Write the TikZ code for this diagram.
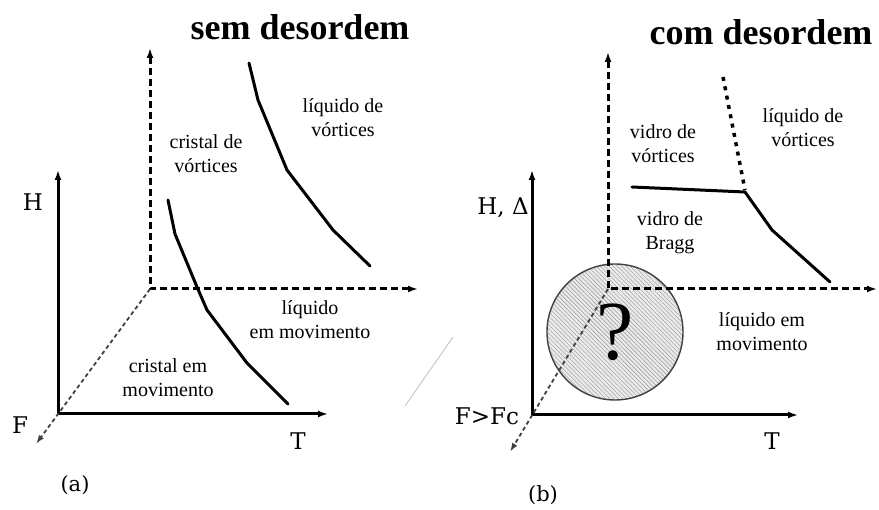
\documentclass[tikz,border=0pt]{standalone}
\usepackage{fontspec}
\setmainfont{Liberation Serif}
\newfontfamily\axisfont{DejaVu Serif}
\usetikzlibrary{arrows.meta,patterns.meta}

\tikzset{
  mainaxis/.style={line width=3pt,{Latex[length=10pt,width=7pt]}-{Latex[length=10pt,width=7pt]}},
  dashaxis/.style={line width=3pt,dash pattern=on 7pt off 4pt,{Latex[length=10pt,width=7pt]}-{Latex[length=10pt,width=7pt]}},
  depthaxis/.style={line width=1.8pt,black!75,dash pattern=on 4pt off 3pt,-{Latex[length=9pt,width=6pt]}},
  boundary/.style={line width=3pt,line join=round,line cap=round},
  dotline/.style={line width=3.5pt,dash pattern=on 4pt off 5.5pt},
  region/.style={font=\fontsize{20}{24}\selectfont,align=center,inner sep=0pt},
  axislabel/.style={font=\axisfont\fontsize{23}{26}\selectfont,inner sep=0pt},
  caption/.style={font=\axisfont\fontsize{21}{24}\selectfont,inner sep=0pt},
  headline/.style={font=\bfseries\fontsize{36}{40}\selectfont,inner sep=0pt},
}

\begin{document}
\begin{tikzpicture}[x=1pt,y=-1pt]
  \useasboundingbox (0,0) rectangle (879,510);

  % (a) sem desordem
  \coordinate (aO) at (58,414);
  \coordinate (aH) at (58,170);
  \coordinate (aT) at (328,414);
  \coordinate (aP) at (150,289);
  \coordinate (aPup) at (150,48);
  \coordinate (aPright) at (418,289);
  \coordinate (aF) at (36,444);
  \draw[mainaxis] (aH) -- (aO) -- (aT);
  \draw[dashaxis] (aPup) -- (aP) -- (aPright);
  \draw[depthaxis] (aP) -- (aF);
  \draw[boundary] (168,200) -- (175,234) -- (197,287) -- (207,310) -- (247,363) -- (288,404);
  \draw[boundary] (249,63) -- (258,100) -- (287,170) -- (333,230) -- (370,266);
  \node[region] (aliq) at (343,118) {líquido de\\vórtices};
  \node[region] (acris) at (206,154) {cristal de\\vórtices};
  \node[region] (aliqm) at (310,320) {líquido\\em movimento};
  \node[region] (acrism) at (168,378) {cristal em\\movimento};
  \node[axislabel] (aHl) at (33,202) {H};
  \node[axislabel] (aTl) at (298,441) {T};
  \node[axislabel] (aFl) at (20,425) {F};
  \node[caption] (acap) at (75,485) {(a)};
  \node[headline] (atitle) at (300,27) {sem desordem};
  \draw[black!25,line width=0.8pt] (453,337) -- (405,406);

  % (b) com desordem
  \coordinate (bO) at (532,415);
  \coordinate (bH) at (532,170);
  \coordinate (bT) at (798,415);
  \coordinate (bP) at (608,289);
  \coordinate (bPup) at (608,52);
  \coordinate (bPright) at (877,289);
  \coordinate (bF) at (510,452);
  \node[circle,minimum size=136pt,inner sep=0pt,draw=black!75,line width=1.4pt,
        pattern={Lines[angle=-45,distance=3pt,line width=0.6pt]},pattern color=black!35,
        preaction={fill=black!8},font=\fontsize{84}{84}\selectfont] (qmark) at (615,332) {?};
  \draw[mainaxis] (bH) -- (bO) -- (bT);
  \draw[dashaxis] (bPup) -- (bP) -- (bPright);
  \draw[depthaxis] (bP) -- (bF);
  \draw[boundary] (632,187) -- (745,192) -- (772,230) -- (830,282);
  \draw[dotline] (723,77) -- (745,190);
  \node[region] (bvidv) at (663,144) {vidro de\\vórtices};
  \node[region] (bliq) at (803,128) {líquido de\\vórtices};
  \node[region] (bbragg) at (670,233) {vidro de\\Bragg};
  \node[region] (bliqm) at (762,332) {líquido em\\movimento};
  \node[axislabel] (bHl) at (503,208) {H, Δ};
  \node[axislabel] (bTl) at (772,441) {T};
  \node[axislabel] (bFl) at (487,416) {F>Fc};
  \node[caption] (bcap) at (543,495) {(b)};
  \node[headline] (btitle) at (761,32) {com desordem};
\end{tikzpicture}
\end{document}
